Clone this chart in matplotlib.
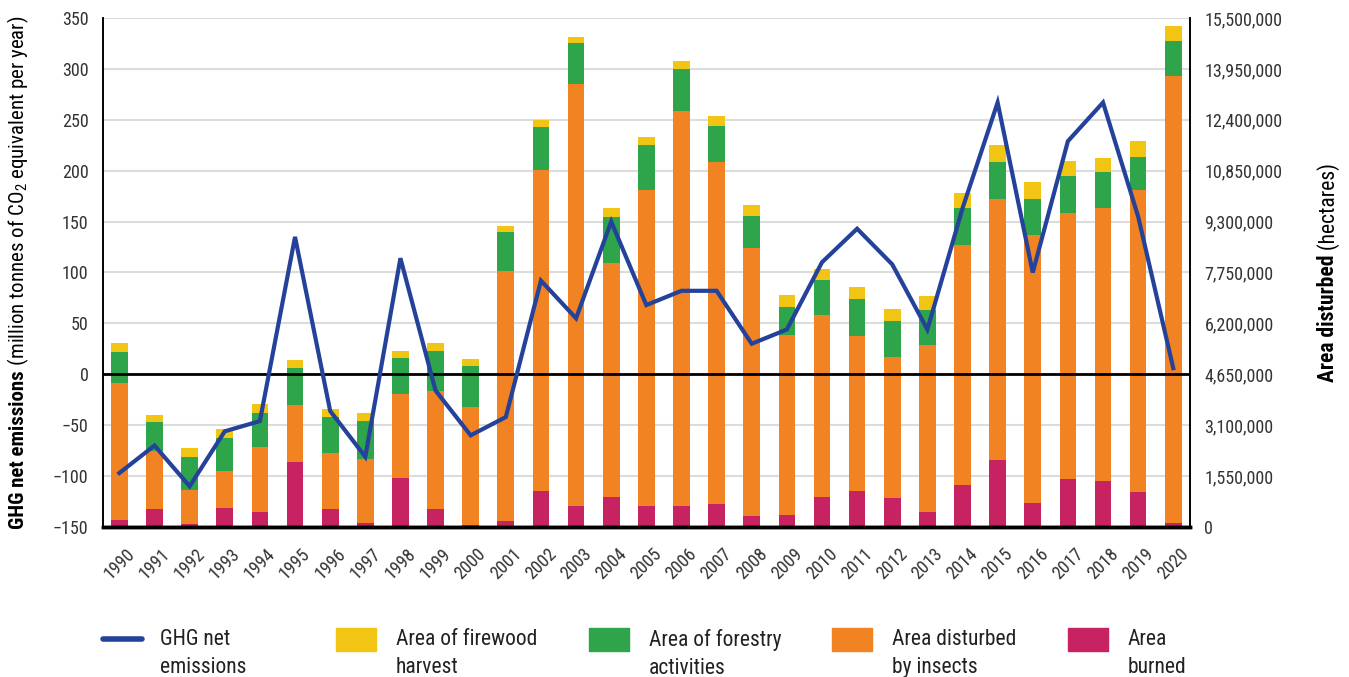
import matplotlib
matplotlib.use("Agg")
import matplotlib.pyplot as plt
from matplotlib import font_manager
from matplotlib.patches import Rectangle
from matplotlib.lines import Line2D
from matplotlib.ticker import FuncFormatter, MultipleLocator

# pick a narrow sans face if one is around
installed = {f.name for f in font_manager.fontManager.ttflist}
narrow = [n for n in ('Roboto Condensed', 'Liberation Sans Narrow', 'Arial Narrow',
                      'Open Sans Condensed', 'Roboto', 'Liberation Sans') if n in installed]
face = narrow[0] if narrow else 'DejaVu Sans'
plt.rcParams['font.family'] = [face, 'DejaVu Sans']
plt.rcParams['mathtext.fontset'] = 'custom'
plt.rcParams['mathtext.rm'] = face
plt.rcParams['mathtext.bf'] = face + ':bold'
plt.rcParams['mathtext.default'] = 'regular'

years = list(range(1990, 2021))

# hectares
area_burned = [210000, 545000, 84000, 576000, 450000, 1969000, 545000, 115000, 1487000, 545000,
               63000, 178000, 1089000, 639000, 911000, 639000, 639000, 702000, 346000, 367000,
               911000, 1089000, 880000, 450000, 1278000, 2032000, 723000, 1456000, 1393000, 1058000,
               115000]
area_insects = [4180000, 1760000, 1040000, 1120000, 1980000, 1740000, 1710000, 1950000, 2570000, 3590000,
                3580000, 7630000, 9790000, 12860000, 7140000, 9610000, 12040000, 10410000, 8150000, 5470000,
                5530000, 4740000, 4310000, 5090000, 7300000, 7970000, 8160000, 8120000, 8310000, 9190000,
                13630000]
area_forestry = [930000, 890000, 1000000, 1010000, 1040000, 1120000, 1090000, 1160000, 1080000, 1220000,
                 1250000, 1180000, 1310000, 1250000, 1400000, 1390000, 1280000, 1110000, 960000, 870000,
                 1070000, 1100000, 1070000, 1060000, 1150000, 1100000, 1120000, 1100000, 1100000, 1010000,
                 1040000]
area_firewood = [270000, 210000, 270000, 290000, 270000, 250000, 240000, 250000, 220000, 240000,
                 220000, 190000, 190000, 180000, 270000, 240000, 240000, 300000, 340000, 350000,
                 340000, 370000, 370000, 440000, 450000, 540000, 490000, 460000, 420000, 490000,
                 460000]

# million tonnes CO2e per year
ghg_net = [-97, -70, -110, -56, -46, 135, -36, -81, 114, -16,
           -60, -42, 92, 55, 150, 68, 82, 82, 30, 44,
           110, 143, 108, 44, 163, 267, 100, 229, 267, 155,
           6]

c_line = '#25429b'
c_fire = '#f2c515'
c_forest = '#2ea44b'
c_insect = '#f28322'
c_burn = '#c72262'
tick_col = '#333333'

fig = plt.figure(figsize=(13.49, 6.77), dpi=100)
ax2 = fig.add_axes([0.076, 0.2216, 0.8065, 0.7518])
ax = ax2.twinx()
# emissions axis sits on the left, drawn above the bars
ax.yaxis.tick_left()
ax2.yaxis.tick_right()
ax.set_zorder(ax2.get_zorder() + 1)
ax.patch.set_visible(False)

w = 0.475
b1 = area_burned
b2 = [a + b for a, b in zip(b1, area_insects)]
b3 = [a + b for a, b in zip(b2, area_forestry)]
ax2.bar(years, area_burned, w, color=c_burn, zorder=2)
ax2.bar(years, area_insects, w, bottom=b1, color=c_insect, zorder=2)
ax2.bar(years, area_forestry, w, bottom=b2, color=c_forest, zorder=2)
ax2.bar(years, area_firewood, w, bottom=b3, color=c_fire, zorder=2)

ax2.set_ylim(0, 15500000)
ax2.yaxis.set_major_locator(MultipleLocator(1550000))
ax2.yaxis.set_major_formatter(FuncFormatter(lambda v, p: f'{int(round(v)):,}'))
ax2.grid(axis='y', color='#dcdcdc', lw=1.5, zorder=0)
ax2.set_axisbelow(True)

ax.plot(years, ghg_net, color=c_line, lw=3, solid_joinstyle='miter', zorder=5)
ax.axhline(0, color='black', lw=2, zorder=4)
ax.set_ylim(-150, 350)
ax.yaxis.set_major_locator(MultipleLocator(50))
ax.set_xlim(1989.52, 2020.49)

ax2.set_xticks(years)
ax2.set_xticklabels([str(y) for y in years], rotation=45, ha='center',
                    fontsize=13, color=tick_col)

for a in (ax, ax2):
    a.tick_params(axis='both', length=0, labelsize=13, colors=tick_col, pad=6)
    a.spines['top'].set_visible(False)
    a.spines['left'].set_linewidth(1.2)
    a.spines['right'].set_linewidth(1.2)
    a.spines['bottom'].set_linewidth(2.5)
ax2.tick_params(axis='x', pad=13)
ax.tick_params(axis='y', pad=10)
ax2.tick_params(axis='y', pad=10)

fig.canvas.draw()
r = fig.canvas.get_renderer()
W, H = fig.bbox.width, fig.bbox.height


def split_label(x, bold, rest, size):
    t1 = fig.text(x, 0, bold, rotation=90, fontsize=size, fontweight='bold',
                  ha='center', va='bottom')
    t2 = fig.text(x, 0, rest, rotation=90, fontsize=size, ha='center', va='bottom')
    h1 = t1.get_window_extent(r).height
    h2 = t2.get_window_extent(r).height
    box = ax.get_window_extent(r)
    y0 = (box.y0 + box.y1) / 2 - (h1 + h2) / 2
    t1.set_position((x, y0 / H))
    t2.set_position((x, (y0 + h1) / H))


split_label(0.0135, 'GHG net emissions', ' (million tonnes of CO$_2$ equivalent per year)', 15)
split_label(0.9845, 'Area disturbed', ' (hectares)', 15.5)

# legend row along the bottom
items = [
    ('line', c_line, 'GHG net\nemissions', 103),
    ('box', c_fire, 'Area of firewood\nharvest', 336),
    ('box', c_forest, 'Area of forestry\nactivities', 589),
    ('box', c_insect, 'Area disturbed\nby insects', 832),
    ('box', c_burn, 'Area\nburned', 1068),
]
for kind, col, label, px in items:
    if kind == 'line':
        fig.add_artist(Line2D([px / W, (px + 39) / W], [1 - 639 / H, 1 - 639 / H],
                              color=col, lw=4, solid_capstyle='round'))
        tx = px + 57
    else:
        fig.add_artist(Rectangle((px / W, 1 - 651 / H), 40 / W, 23 / H,
                                 color=col, transform=fig.transFigure))
        tx = px + 60
    fig.text(tx / W, 1 - 629 / H, label, fontsize=15.5, ha='left', va='top',
             linespacing=1.45, color='#222222')

fig.savefig('out.png', dpi=100)
